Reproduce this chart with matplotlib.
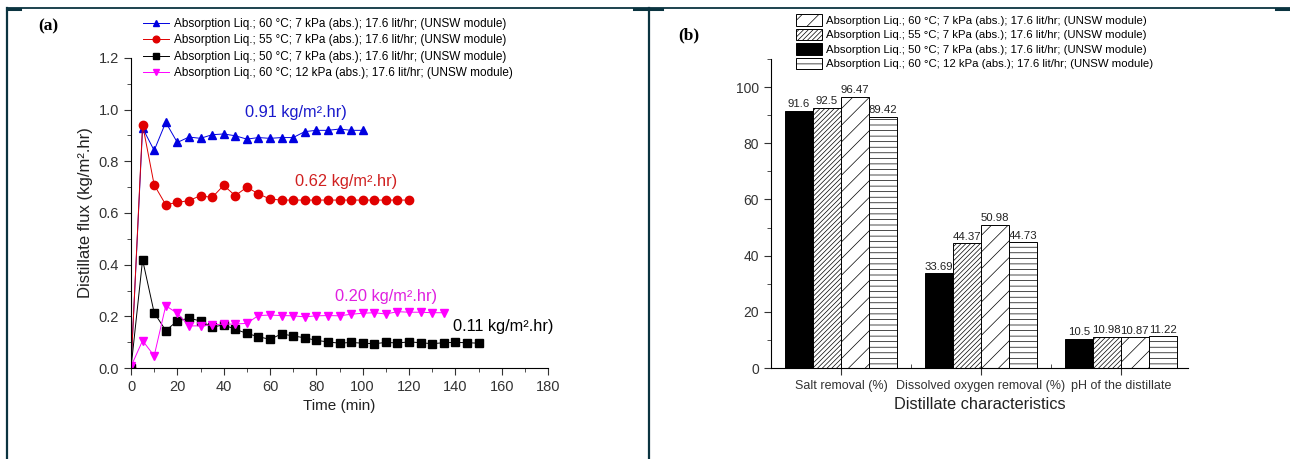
import numpy as np
import matplotlib
matplotlib.use('Agg')
from matplotlib import pyplot as plt
from matplotlib.lines import Line2D
from matplotlib.ticker import MultipleLocator, FixedLocator

plt.rcParams['font.family'] = ['Liberation Sans', 'DejaVu Sans']
plt.rcParams['hatch.linewidth'] = 0.5

# (a) distillate flux vs time
t_60c_7kpa = np.arange(0, 101, 5)
flux_60c_7kpa = [0.0, 0.929, 0.842, 0.951, 0.873, 0.894, 0.889, 0.903, 0.906, 0.899, 0.886,
                 0.892, 0.889, 0.892, 0.892, 0.915, 0.920, 0.920, 0.925, 0.920, 0.920]
t_55c_7kpa = np.arange(0, 121, 5)
flux_55c_7kpa = [0.0, 0.942, 0.709, 0.632, 0.641, 0.648, 0.667, 0.660, 0.707, 0.667, 0.700,
                 0.674, 0.654, 0.650, 0.650, 0.650, 0.650, 0.650, 0.650, 0.650, 0.650,
                 0.650, 0.650, 0.650, 0.650]
t_50c_7kpa = np.arange(0, 151, 5)
flux_50c_7kpa = [0.0, 0.419, 0.214, 0.145, 0.182, 0.193, 0.182, 0.158, 0.167, 0.150, 0.134,
                 0.121, 0.111, 0.132, 0.124, 0.117, 0.107, 0.101, 0.096, 0.099, 0.096,
                 0.094, 0.099, 0.097, 0.101, 0.098, 0.094, 0.098, 0.099, 0.098, 0.096]
t_60c_12kpa = np.arange(0, 136, 5)
flux_60c_12kpa = [0.006, 0.106, 0.047, 0.241, 0.212, 0.163, 0.163, 0.167, 0.170, 0.170, 0.173,
                  0.203, 0.205, 0.203, 0.202, 0.198, 0.202, 0.203, 0.202, 0.208, 0.212,
                  0.214, 0.209, 0.218, 0.216, 0.216, 0.214, 0.214]

labels = ['Absorption Liq.; 60 °C; 7 kPa (abs.); 17.6 lit/hr; (UNSW module)',
          'Absorption Liq.; 55 °C; 7 kPa (abs.); 17.6 lit/hr; (UNSW module)',
          'Absorption Liq.; 50 °C; 7 kPa (abs.); 17.6 lit/hr; (UNSW module)',
          'Absorption Liq.; 60 °C; 12 kPa (abs.); 17.6 lit/hr; (UNSW module)']
avg_text = ['0.91 kg/m².hr)', '0.62 kg/m².hr)', '0.11 kg/m².hr)', '0.20 kg/m².hr)']

# (b) distillate characteristics
categories = ['Salt removal (%)', 'Dissolved oxygen removal (%)', 'pH of the distillate']
val_50c_7kpa = [91.6, 33.69, 10.5]
val_55c_7kpa = [92.5, 44.37, 10.98]
val_60c_7kpa = [96.47, 50.98, 10.87]
val_60c_12kpa = [89.42, 44.73, 11.22]
bar_text = [['91.6', '33.69', '10.5'], ['92.5', '44.37', '10.98'],
            ['96.47', '50.98', '10.87'], ['89.42', '44.73', '11.22']]

fig = plt.figure(figsize=(12.9, 4.59), dpi=100)

# ---- panel (a)
ax = fig.add_axes([131/1290, 1-368/459, 417/1290, 310/459])
series = [(t_60c_7kpa, flux_60c_7kpa, '#0000e0', '^'),
          (t_55c_7kpa, flux_55c_7kpa, '#e00000', 'o'),
          (t_50c_7kpa, flux_50c_7kpa, '#000000', 's'),
          (t_60c_12kpa, flux_60c_12kpa, '#ff00ff', 'v')]
handles = []
for (t, f, c, m), lab in zip(series, labels):
    h, = ax.plot(t, f, color=c, lw=0.7, marker=m, ms=6, mec=c, mfc=c, label=lab)
    handles.append(h)

ax.text(49, 0.988, avg_text[0], color='#1a1acc', fontsize=11.8, va='center')
ax.text(71, 0.722, avg_text[1], color='#d02020', fontsize=11.8, va='center')
ax.text(139, 0.160, avg_text[2], color='black', fontsize=11.8, va='center')
ax.text(88, 0.276, avg_text[3], color='#e020e0', fontsize=11.8, va='center')

ax.set_xlim(0, 180)
ax.set_ylim(0, 1.2)
ax.xaxis.set_major_locator(MultipleLocator(20))
ax.xaxis.set_minor_locator(MultipleLocator(10))
ax.yaxis.set_major_locator(MultipleLocator(0.2))
ax.yaxis.set_minor_locator(MultipleLocator(0.1))
ax.yaxis.set_major_formatter(plt.FuncFormatter(lambda v, p: f'{v:.1f}'))
ax.spines['top'].set_visible(False)
ax.spines['right'].set_visible(False)
ax.tick_params(which='both', direction='out', labelsize=10.5, colors='#333333')
ax.tick_params(which='major', length=5)
ax.tick_params(which='minor', length=3)
ax.set_xlabel('Time (min)', fontsize=11, color='#222222')
ax.set_ylabel('Distillate flux (kg/m².hr)', fontsize=12, color='#222222')
fig.legend(handles=handles, loc='upper left', bbox_to_anchor=(143/1290, 1-18/459),
           frameon=False, fontsize=8.5, borderpad=0, borderaxespad=0,
           handlelength=2.2, handletextpad=0.4, labelspacing=0.38, markerscale=0.8)

# ---- panel (b)
bx = fig.add_axes([771/1290, 1-368/459, 417/1290, 309/459])
x = np.arange(len(categories))
w = 0.2
bar_sets = [(val_50c_7kpa, 'black', ''), (val_55c_7kpa, 'white', '///////'),
            (val_60c_7kpa, 'white', '//'), (val_60c_12kpa, 'white', '---')]
bars = []
for i, (vals, fc, hatch) in enumerate(bar_sets):
    b = bx.bar(x + (i - 1.5) * w, vals, w, color=fc, edgecolor='black', lw=0.7, hatch=hatch)
    bars.append(b)
    for xi, v, s in zip(x + (i - 1.5) * w, vals, bar_text[i]):
        bx.text(xi, v + 0.6, s, ha='center', va='bottom', fontsize=8.2, color='#222222')

bx.set_xlim(-0.5, 2.48)
bx.set_ylim(0, 110)
bx.set_xticks(x)
bx.set_xticklabels(categories, color='#222222')
bx.xaxis.set_minor_locator(FixedLocator([0.5, 1.5]))
bx.yaxis.set_major_locator(MultipleLocator(20))
bx.yaxis.set_minor_locator(MultipleLocator(10))
bx.spines['top'].set_visible(False)
bx.spines['right'].set_visible(False)
bx.tick_params(which='both', direction='out', labelsize=10, colors='#333333')
bx.tick_params(axis='x', which='major', length=5, labelsize=9)
bx.tick_params(axis='x', which='minor', direction='in', length=3)
bx.tick_params(axis='y', which='major', length=5)
bx.tick_params(axis='y', which='minor', length=3)
bx.set_xlabel('Distillate characteristics', fontsize=11.8, color='#222222')

leg_order = [2, 1, 0, 3]
fig.legend(handles=[bars[i] for i in leg_order], labels=labels, loc='upper left',
           bbox_to_anchor=(796/1290, 1-14/459), frameon=False, fontsize=8.2,
           borderpad=0, borderaxespad=0, handlelength=2.3, handleheight=1.2,
           handletextpad=0.3, labelspacing=0.25)

# panel labels
fig.text(48/1290, 1-26/459, '(a)', fontsize=12.5, fontweight='bold',
         family='Liberation Serif', ha='center', va='center')
fig.text(689/1290, 1-35/459, '(b)', fontsize=12.5, fontweight='bold',
         family='Liberation Serif', ha='center', va='center')

# table cell borders
frame_c = '#0b3440'
fig.add_artist(Line2D([7/1290, 1], [1-8/459, 1-8/459], color=frame_c, lw=1.3))
fig.add_artist(Line2D([7/1290, 7/1290], [0, 1-8/459], color=frame_c, lw=1.6))
fig.add_artist(Line2D([649/1290, 649/1290], [0, 1-8/459], color=frame_c, lw=1.6))
for x0, x1 in [(7, 20), (634, 662), (1276, 1290)]:
    fig.add_artist(Line2D([x0/1290, x1/1290], [1-8.5/459, 1-8.5/459], color=frame_c, lw=2.2))

fig.savefig('out.png', dpi=100)
